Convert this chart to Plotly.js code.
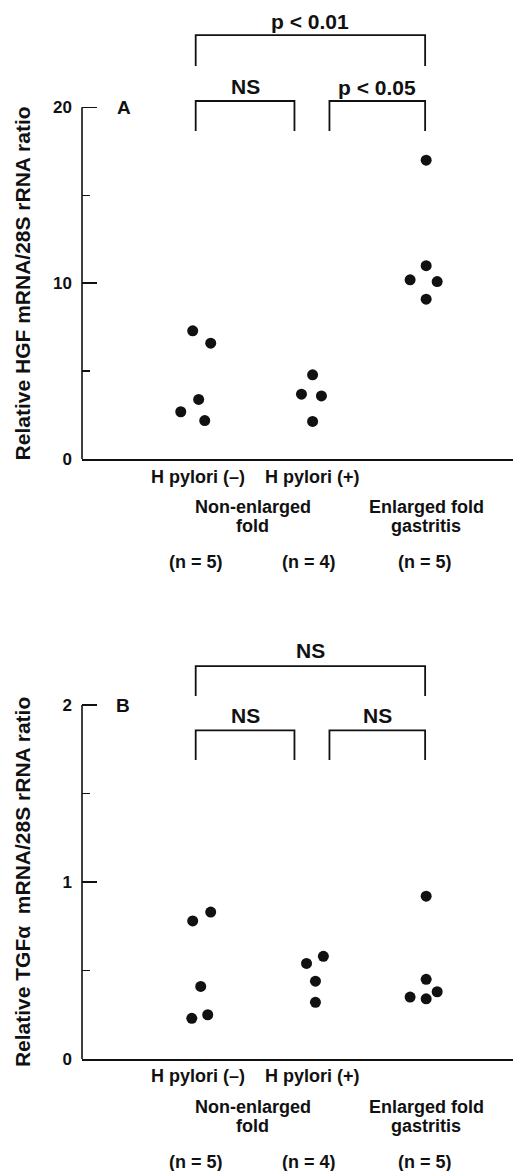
<!DOCTYPE html>
<html>
<head>
<meta charset="utf-8">
<script src="https://cdn.plot.ly/plotly-3.0.1.min.js"></script>
<style>html,body{margin:0;padding:0;background:#fff;}#chart{width:513px;height:1171px;}</style>
</head>
<body>
<div id="chart"></div>
<script>
// ---- data ----
const groupPos = [1, 2, 3];
const groupNames = ["H pylori (\u2013)", "H pylori (+)", "Enlarged fold gastritis"];
const nLabels = ["(n = 5)", "(n = 4)", "(n = 5)"];

// Panel A: HGF
const hgfNeg = [7.3, 6.6, 3.4, 2.7, 2.2];
const hgfNegJit = [-0.035, 0.122, 0.017, -0.139, 0.07];
const hgfPos = [4.8, 3.7, 3.6, 2.15];
const hgfPosJit = [0.01, -0.087, 0.087, 0.01];
const hgfEnl = [17.0, 11.0, 10.2, 10.1, 9.1];
const hgfEnlJit = [0, 0, -0.14, 0.096, 0];

// Panel B: TGF alpha
const tgfNeg = [0.78, 0.83, 0.41, 0.23, 0.25];
const tgfNegJit = [-0.035, 0.122, 0.035, -0.043, 0.096];
const tgfPos = [0.54, 0.58, 0.44, 0.32];
const tgfPosJit = [-0.043, 0.104, 0.035, 0.035];
const tgfEnl = [0.92, 0.45, 0.35, 0.38, 0.34];
const tgfEnlJit = [0, 0, -0.14, 0.096, 0];

// significance brackets: [x0, x1, yBottom, yTop, label, labelY]
const bracketsA = [
  [0.991, 2.991, 22.35, 24.1, "p < 0.01", 24.9],
  [0.991, 1.852, 18.65, 20.36, "NS", 21.2],
  [2.157, 2.991, 18.65, 20.36, "p < 0.05", 21.15]
];
const bracketsB = [
  [0.991, 2.991, 2.051, 2.220, "NS", 2.307],
  [0.991, 1.852, 1.689, 1.857, "NS", 1.942],
  [2.157, 2.991, 1.689, 1.857, "NS", 1.942]
];

// ---- build ----
const FONT = "Liberation Sans, Arial, Helvetica, sans-serif";
const INK = "#111";
const W = "bold";
function xs(pos, jit) { return jit.map(j => pos + j); }

function pts(xa, ya, x, y) {
  return {type: "scatter", mode: "markers", x: x, y: y, xaxis: xa, yaxis: ya,
    marker: {size: 11, color: INK}, cliponaxis: false, hoverinfo: "skip"};
}

const traces = [
  pts("x", "y", xs(groupPos[0], hgfNegJit), hgfNeg),
  pts("x", "y", xs(groupPos[1], hgfPosJit), hgfPos),
  pts("x", "y", xs(groupPos[2], hgfEnlJit), hgfEnl),
  pts("x2", "y2", xs(groupPos[0], tgfNegJit), tgfNeg),
  pts("x2", "y2", xs(groupPos[1], tgfPosJit), tgfPos),
  pts("x2", "y2", xs(groupPos[2], tgfEnlJit), tgfEnl)
];

const shapes = [];
const annotations = [];

function addBrackets(list, xr, yr) {
  list.forEach(b => {
    shapes.push({type: "path", xref: xr, yref: yr,
      path: `M ${b[0]},${b[2]} L ${b[0]},${b[3]} L ${b[1]},${b[3]} L ${b[1]},${b[2]}`,
      line: {color: INK, width: 1.8}});
    annotations.push({xref: xr, yref: yr, x: (b[0] + b[1]) / 2, y: b[5], text: b[4],
      showarrow: false, xanchor: "center", yanchor: "middle",
      font: {family: FONT, size: 21, color: INK, weight: W}});
  });
}
addBrackets(bracketsA, "x", "y");
addBrackets(bracketsB, "x2", "y2");

// y axis lines (from 0 to top tick)
shapes.push({type: "line", xref: "paper", yref: "y", x0: 0, x1: 0, y0: 0, y1: 20, line: {color: INK, width: 1.6}});
shapes.push({type: "line", xref: "paper", yref: "y2", x0: 0, x1: 0, y0: 0, y1: 2, line: {color: INK, width: 1.6}});

function catLabels(xr, yr) {
  const f = {family: FONT, size: 18, color: INK, weight: W};
  const base = {xref: xr, yref: yr, y: 0, showarrow: false, xanchor: "center", yanchor: "middle", font: f};
  annotations.push(Object.assign({}, base, {x: 1.009, yshift: -17.5, text: groupNames[0]}));
  annotations.push(Object.assign({}, base, {x: 2.009, yshift: -17.5, text: groupNames[1]}));
  annotations.push(Object.assign({}, base, {x: 1.49, yshift: -48, text: "Non-enlarged"}));
  annotations.push(Object.assign({}, base, {x: 1.49, yshift: -67, text: "fold"}));
  annotations.push(Object.assign({}, base, {x: 3.0, yshift: -48, text: "Enlarged fold"}));
  annotations.push(Object.assign({}, base, {x: 3.0, yshift: -67, text: "gastritis"}));
  annotations.push(Object.assign({}, base, {x: 0.991, yshift: -103, text: nLabels[0]}));
  annotations.push(Object.assign({}, base, {x: 1.983, yshift: -103, text: nLabels[1]}));
  annotations.push(Object.assign({}, base, {x: 2.991, yshift: -103, text: nLabels[2]}));
}
catLabels("x", "y");
catLabels("x2", "y2");

// panel letters
annotations.push({xref: "x", yref: "y", x: 0.365, y: 20, text: "A", showarrow: false,
  xanchor: "center", yanchor: "middle", font: {family: FONT, size: 19, color: INK, weight: W}});
annotations.push({xref: "x2", yref: "y2", x: 0.357, y: 2, text: "B", showarrow: false,
  xanchor: "center", yanchor: "middle", font: {family: FONT, size: 19, color: INK, weight: W}});

// axis titles
annotations.push({xref: "paper", yref: "y", x: -0.139, y: 10, text: "Relative HGF mRNA/28S rRNA ratio",
  textangle: -90, showarrow: false, xanchor: "center", yanchor: "middle",
  font: {family: FONT, size: 21, color: INK, weight: W}});
annotations.push({xref: "paper", yref: "y2", x: -0.139, y: 1, text: "Relative TGF\u03b1\u00a0 mRNA/28S rRNA ratio",
  textangle: -90, showarrow: false, xanchor: "center", yanchor: "middle",
  font: {family: FONT, size: 21, color: INK, weight: W}});

function xAxis(anchor) {
  return {domain: [0, 1], range: [0, 3.757], anchor: anchor, showline: true, linecolor: INK, linewidth: 1.6,
    showgrid: false, zeroline: false, showticklabels: false, ticks: "", fixedrange: true};
}
function yAxis(anchor, domain, range, vals, minorVals) {
  return {domain: domain, range: range, anchor: anchor, showline: false, showgrid: false, zeroline: false,
    tickmode: "array", tickvals: vals, ticktext: vals.map(String), ticks: "inside", ticklen: 15, tickwidth: 1.6,
    tickcolor: INK, ticklabelstandoff: 9, tickfont: {family: FONT, size: 17, color: INK, weight: W},
    minor: {tickmode: "array", tickvals: minorVals, ticks: "inside", ticklen: 8, tickwidth: 1.6, tickcolor: INK, showgrid: false},
    fixedrange: true};
}

const layout = {
  width: 513, height: 1171,
  margin: {l: 82, r: 0, t: 0, b: 0},
  paper_bgcolor: "#fff", plot_bgcolor: "#fff",
  showlegend: false,
  font: {family: FONT, color: INK},
  xaxis: xAxis("y"),
  yaxis: yAxis("x", [0.6078, 1], [0, 26.1], [0, 10, 20], [5, 15]),
  xaxis2: xAxis("y2"),
  yaxis2: yAxis("x2", [0.09565, 0.4620], [0, 2.424], [0, 1, 2], [0.5, 1.5]),
  shapes: shapes,
  annotations: annotations
};

Plotly.newPlot("chart", traces, layout, {staticPlot: true, displayModeBar: false});
</script>
</body>
</html>
